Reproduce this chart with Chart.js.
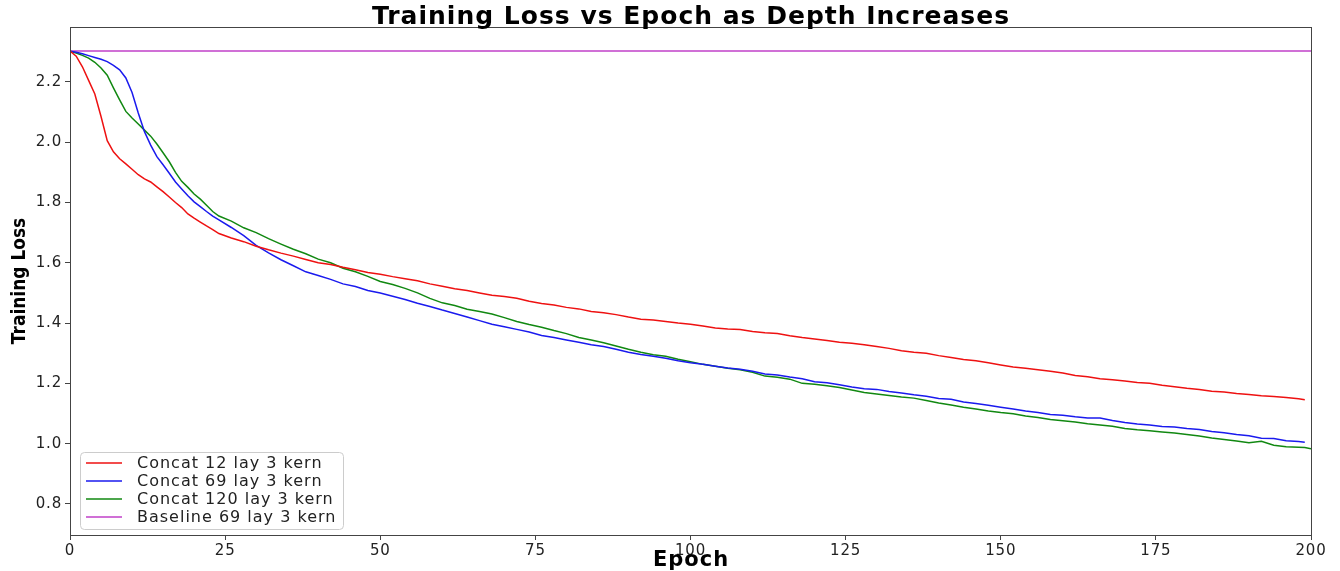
<!DOCTYPE html>
<html>
<head>
<meta charset="utf-8">
<title>Training Loss vs Epoch as Depth Increases</title>
<script src="https://cdn.jsdelivr.net/npm/chart.js@4"></script>
<style>
  html, body { margin: 0; padding: 0; background: #fff; }
  #wrap { width: 1340px; height: 571px; position: relative; }
</style>
</head>
<body>
<div id="wrap"><canvas id="lossChart"></canvas></div>
<script>
// epochs shared by all series (dense at the start, every 2 epochs after)
const epochs = [
  0, 1, 2, 3, 4, 5, 6, 7, 8, 9, 10, 11, 12, 13, 14, 15, 16, 17, 18, 19, 20, 21, 22, 23, 24,
  26, 28, 30, 32, 34, 36, 38, 40, 42, 44, 46, 48, 50, 52, 54, 56, 58, 60, 62, 64, 66, 68, 70,
  72, 74, 76, 78, 80, 82, 84, 86, 88, 90, 92, 94, 96, 98, 100, 102, 104, 106, 108, 110, 112,
  114, 116, 118, 120, 122, 124, 126, 128, 130, 132, 134, 136, 138, 140, 142, 144, 146, 148,
  150, 152, 154, 156, 158, 160, 162, 164, 166, 168, 170, 172, 174, 176, 178, 180, 182, 184,
  186, 188, 190, 192, 194, 196, 198, 199, 200
];

const concat12 = [
  2.302, 2.285, 2.250, 2.205, 2.160, 2.085, 2.005, 1.968, 1.945, 1.928, 1.910, 1.892, 1.878,
  1.868, 1.852, 1.836, 1.818, 1.800, 1.783, 1.762, 1.748, 1.735, 1.722, 1.710, 1.697,
  1.682, 1.670, 1.655, 1.643, 1.632, 1.622, 1.611, 1.600, 1.594, 1.585, 1.577, 1.568, 1.562,
  1.554, 1.547, 1.540, 1.530, 1.522, 1.514, 1.508, 1.500, 1.492, 1.488, 1.482, 1.472, 1.465,
  1.460, 1.452, 1.447, 1.438, 1.434, 1.428, 1.420, 1.413, 1.410, 1.405, 1.400, 1.396, 1.390,
  1.384, 1.380, 1.379, 1.372, 1.368, 1.365, 1.358, 1.352, 1.347, 1.342, 1.336, 1.333, 1.328,
  1.322, 1.316, 1.308, 1.303, 1.300, 1.292, 1.286, 1.279, 1.275, 1.268, 1.261, 1.254, 1.250,
  1.245, 1.240, 1.234, 1.226, 1.222, 1.215, 1.212, 1.208, 1.203, 1.200, 1.194, 1.189, 1.184,
  1.180, 1.174, 1.171, 1.166, 1.163, 1.159, 1.156, 1.153, 1.149, 1.146
];

const concat69 = [
  2.302, 2.298, 2.293, 2.287, 2.281, 2.275, 2.267, 2.255, 2.240, 2.213, 2.165, 2.097, 2.035,
  1.990, 1.952, 1.925, 1.897, 1.868, 1.845, 1.822, 1.802, 1.786, 1.770, 1.755, 1.742,
  1.717, 1.690, 1.658, 1.633, 1.610, 1.590, 1.570, 1.558, 1.545, 1.530, 1.521, 1.508, 1.500,
  1.489, 1.478, 1.466, 1.455, 1.443, 1.432, 1.420, 1.408, 1.396, 1.388, 1.379, 1.370, 1.359,
  1.352, 1.344, 1.336, 1.328, 1.322, 1.313, 1.303, 1.296, 1.290, 1.283, 1.275, 1.268, 1.263,
  1.257, 1.251, 1.247, 1.240, 1.231, 1.228, 1.221, 1.215, 1.205, 1.202, 1.195, 1.188, 1.182,
  1.180, 1.173, 1.168, 1.162, 1.157, 1.150, 1.147, 1.138, 1.133, 1.127, 1.121, 1.115, 1.108,
  1.103, 1.097, 1.094, 1.089, 1.085, 1.085, 1.077, 1.070, 1.065, 1.062, 1.057, 1.055, 1.050,
  1.047, 1.040, 1.036, 1.030, 1.026, 1.018, 1.017, 1.010, 1.007, 1.005
];

const concat120 = [
  2.302, 2.296, 2.288, 2.279, 2.265, 2.246, 2.222, 2.180, 2.140, 2.102, 2.080, 2.060, 2.040,
  2.020, 1.994, 1.965, 1.935, 1.900, 1.870, 1.850, 1.828, 1.811, 1.791, 1.770, 1.755,
  1.738, 1.716, 1.700, 1.680, 1.662, 1.645, 1.630, 1.612, 1.600, 1.582, 1.570, 1.555, 1.538,
  1.528, 1.515, 1.500, 1.482, 1.467, 1.458, 1.446, 1.438, 1.430, 1.418, 1.405, 1.395, 1.386,
  1.375, 1.365, 1.352, 1.344, 1.335, 1.324, 1.313, 1.303, 1.295, 1.290, 1.280, 1.272, 1.263,
  1.257, 1.250, 1.245, 1.237, 1.224, 1.220, 1.214, 1.200, 1.197, 1.192, 1.186, 1.178, 1.170,
  1.165, 1.160, 1.155, 1.151, 1.143, 1.135, 1.128, 1.121, 1.115, 1.108, 1.103, 1.099, 1.092,
  1.087, 1.080, 1.076, 1.072, 1.066, 1.062, 1.058, 1.050, 1.046, 1.043, 1.039, 1.035, 1.030,
  1.025, 1.019, 1.014, 1.009, 1.003, 1.008, 0.995, 0.990, 0.988, 0.987, 0.983
];

const baselineEpochs = [0, 200];
const baseline69 = [2.302, 2.302];

const xTicks = [0, 25, 50, 75, 100, 125, 150, 175, 200];
const yTicks = [0.8, 1.0, 1.2, 1.4, 1.6, 1.8, 2.0, 2.2];

function toPoints(xs, ys) {
  return ys.map((y, i) => ({ x: xs[i], y: y }));
}

// tick labels in the picture are drawn a little wide
const spacingPlugin = {
  id: 'spacing',
  beforeDraw(chart) {
    chart.ctx.letterSpacing = '0.8px';
  }
};

// title, axis titles, frame and the legend inside the plot
const decorPlugin = {
  id: 'decor',
  afterDraw(chart) {
    const ctx = chart.ctx;
    const a = chart.chartArea;
    ctx.save();
    ctx.strokeStyle = '#444';
    ctx.lineWidth = 1;
    ctx.strokeRect(a.left + 0.5, a.top + 0.5, a.right - a.left, a.bottom - a.top);

    ctx.fillStyle = '#000';
    ctx.textAlign = 'center';
    ctx.textBaseline = 'middle';
    ctx.letterSpacing = '1px';
    ctx.font = 'bold 25px "DejaVu Sans"';
    ctx.fillText('Training Loss vs Epoch as Depth Increases', 691, 17);

    ctx.letterSpacing = '1px';
    ctx.font = 'bold 21px "DejaVu Sans"';
    ctx.fillText('Epoch', 691, 561);

    // y title: narrow in the picture
    ctx.save();
    ctx.translate(20, 281);
    ctx.rotate(-Math.PI / 2);
    ctx.scale(0.85, 1);
    ctx.letterSpacing = '0px';
    ctx.font = 'bold 20px "DejaVu Sans"';
    ctx.fillText('Training Loss', 0, 0);
    ctx.restore();

    // legend
    const bx = 80, by = 452, bw = 263, bh = 77;
    ctx.fillStyle = 'rgba(255,255,255,0.8)';
    ctx.strokeStyle = '#cccccc';
    ctx.lineWidth = 1;
    ctx.beginPath();
    ctx.roundRect(bx + 0.5, by + 0.5, bw, bh, 4);
    ctx.fill();
    ctx.stroke();
    ctx.font = '16px "DejaVu Sans"';
    ctx.letterSpacing = '1px';
    ctx.textAlign = 'left';
    chart.data.datasets.forEach((ds, i) => {
      const ry = 463 + i * 18;
      ctx.strokeStyle = ds.borderColor;
      ctx.lineWidth = 1.5;
      ctx.beginPath();
      ctx.moveTo(86, ry);
      ctx.lineTo(122, ry);
      ctx.stroke();
      ctx.fillStyle = '#222';
      ctx.fillText(ds.label, 137, ry + 1);
    });
    ctx.restore();
  }
};

const ctx = document.getElementById('lossChart').getContext('2d');
const lossChart = new Chart(ctx, {
  type: 'line',
  data: {
    datasets: [
      { label: 'Concat 12 lay 3 kern', data: toPoints(epochs, concat12), borderColor: '#ee1111' },
      { label: 'Concat 69 lay 3 kern', data: toPoints(epochs, concat69), borderColor: '#1a1aee' },
      { label: 'Concat 120 lay 3 kern', data: toPoints(epochs, concat120), borderColor: '#118811' },
      { label: 'Baseline 69 lay 3 kern', data: toPoints(baselineEpochs, baseline69), borderColor: '#c040c8' }
    ]
  },
  options: {
    responsive: true,
    maintainAspectRatio: false,
    animation: false,
    layout: { padding: { left: 0, right: 29, top: 27, bottom: 0 } },
    elements: {
      line: { borderWidth: 1.5, tension: 0, fill: false },
      point: { radius: 0 }
    },
    scales: {
      x: {
        type: 'linear',
        min: 0,
        max: 200,
        grid: { display: true, drawOnChartArea: false, drawTicks: true, tickLength: 5, color: '#444' },
        border: { display: false },
        afterBuildTicks: s => { s.ticks = xTicks.map(v => ({ value: v })); },
        afterFit: s => { s.height = 36; },
        ticks: {
          color: '#222',
          font: { family: 'DejaVu Sans', size: 15 },
          padding: 2,
          maxRotation: 0,
          callback: v => String(v)
        }
      },
      y: {
        type: 'linear',
        min: 0.697,
        max: 2.382,
        grid: { display: true, drawOnChartArea: false, drawTicks: true, tickLength: 5, color: '#444' },
        border: { display: false },
        afterBuildTicks: s => { s.ticks = yTicks.map(v => ({ value: v })); },
        afterFit: s => { s.width = 70; },
        ticks: {
          color: '#222',
          font: { family: 'DejaVu Sans', size: 15 },
          padding: 3,
          callback: v => v.toFixed(1)
        }
      }
    },
    plugins: {
      legend: { display: false },
      tooltip: { enabled: false },
      title: { display: false }
    }
  },
  plugins: [spacingPlugin, decorPlugin]
});
</script>
</body>
</html>
